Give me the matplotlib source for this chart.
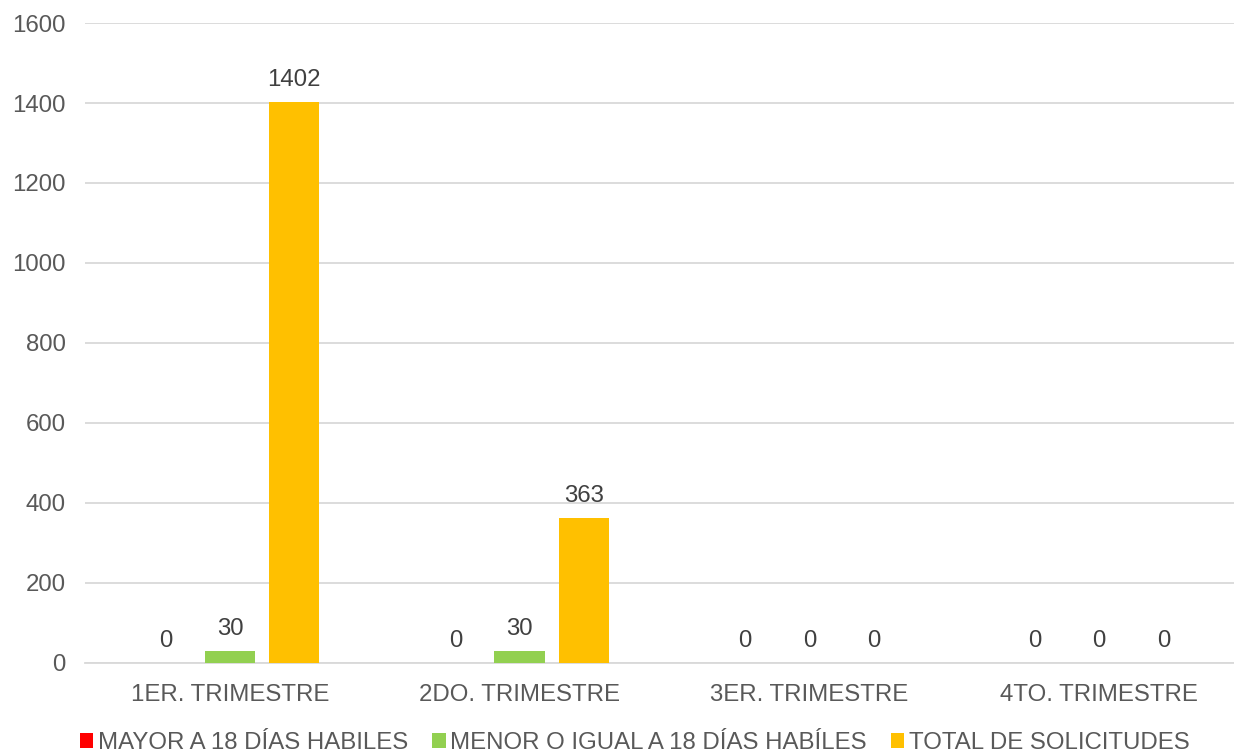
import matplotlib
matplotlib.use("Agg")
import matplotlib.pyplot as plt
import numpy as np

categories = ["1ER. TRIMESTRE", "2DO. TRIMESTRE", "3ER. TRIMESTRE", "4TO. TRIMESTRE"]
mayor_18 = [0, 0, 0, 0]
menor_igual_18 = [30, 30, 0, 0]
total_solicitudes = [1402, 363, 0, 0]

series = [
    ("MAYOR A 18 DÍAS HABILES", mayor_18, "#ff0000"),
    ("MENOR O IGUAL A 18 DÍAS HABÍLES", menor_igual_18, "#92d050"),
    ("TOTAL DE SOLICITUDES", total_solicitudes, "#ffc000"),
]

plt.rcParams["font.family"] = ["Liberation Sans", "DejaVu Sans"]
txt = "#595959"
fs = 17.3

fig = plt.figure(figsize=(12.34, 7.52), dpi=100)
# axes run slightly past the right edge, as in the original
ax = fig.add_axes([0.069, 0.1184, 0.939, 0.851])

x = np.arange(len(categories))
width = 0.174
offsets = [-0.222, 0.0, 0.222]

for (label, vals, color), off in zip(series, offsets):
    bars = ax.bar(x + off, vals, width, color=color, label=label, zorder=3)
    for b, v in zip(bars, vals):
        ax.text(b.get_x() + b.get_width() / 2, v + 28, str(v),
                ha="center", va="bottom", fontsize=fs, color="#404040")

ax.set_xlim(-0.5, len(categories) - 0.5)
ax.set_ylim(0, 1600)
ax.set_yticks(range(0, 1601, 200))
ax.set_xticks(x)
ax.set_xticklabels(categories)
ax.tick_params(axis="both", length=0, labelsize=fs, colors=txt)
ax.tick_params(axis="y", pad=14)
ax.tick_params(axis="x", pad=15)
ax.grid(True, axis="y", color="#d9d9d9", linewidth=1.3, zorder=0)
for s in ["top", "right", "left"]:
    ax.spines[s].set_visible(False)
ax.spines["bottom"].set_color("#d9d9d9")
ax.spines["bottom"].set_linewidth(1.3)

leg = ax.legend(loc="center", bbox_to_anchor=((635 - 85) / 1159, -0.125), ncol=3,
                frameon=False, fontsize=fs, handlelength=0.55, handleheight=0.55,
                handletextpad=0.2, columnspacing=1.0, borderaxespad=0,
                borderpad=0)
for t in leg.get_texts():
    t.set_color(txt)

fig.savefig("out.png", dpi=100)
